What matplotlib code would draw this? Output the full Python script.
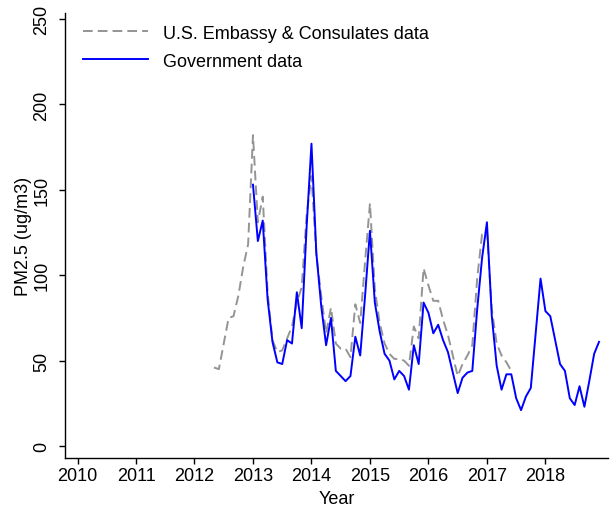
import numpy as np
import matplotlib
matplotlib.use("Agg")
import matplotlib.pyplot as plt

plt.rcParams['font.family'] = ['Liberation Sans', 'DejaVu Sans']

# Monthly PM2.5 means (ug/m3)
embassy_start = (2012, 5)
embassy_pm25 = [
    46, 45, 60, 75, 76, 88, 105, 118,                      # 2012 May-Dec
    182, 131, 146, 90, 62, 55, 56, 63, 70, 84, 93, 135,    # 2013
    158, 112, 88, 66, 81, 60, 57, 57, 52, 83, 72, 108,     # 2014
    142, 92, 72, 60, 54, 51, 51, 50, 47, 70, 63, 104,      # 2015
    94, 85, 85, 74, 65, 53, 41, 48, 53, 59, 98, 124,       # 2016
    126, 80, 60, 53, 49, 44,                               # 2017 Jan-Jun
]

government_start = (2013, 1)
government_pm25 = [
    153, 120, 132, 86, 61, 49, 48, 62, 60, 90, 69, 128,    # 2013
    177, 113, 82, 59, 75, 44, 41, 38, 41, 64, 53, 88,      # 2014
    126, 84, 67, 54, 50, 39, 44, 41, 33, 59, 48, 84,       # 2015
    78, 66, 71, 62, 55, 43, 31, 40, 43, 44, 80, 110,       # 2016
    131, 76, 47, 33, 42, 42, 28, 21, 29, 34, 66, 98,       # 2017
    79, 76, 62, 48, 44, 28, 24, 35, 23, 38, 54, 61,        # 2018
]

year_ticks = list(range(2010, 2019))
pm_ticks = [0, 50, 100, 150, 200, 250]


def month_axis(start, n):
    y0, m0 = start
    idx = np.arange(n)
    return y0 + (m0 - 1 + idx) / 12.0


x_emb = month_axis(embassy_start, len(embassy_pm25))
x_gov = month_axis(government_start, len(government_pm25))

fig = plt.figure(figsize=(6.1, 5.1), dpi=100)
ax = fig.add_axes([65 / 610, 51 / 510, 543 / 610, 445 / 510])

ax.plot(x_emb, embassy_pm25, color='#949494', lw=1.4,
        linestyle=(0, (5.0, 2.6)), label='U.S. Embassy & Consulates data')
ax.plot(x_gov, government_pm25, color='#0000ff', lw=1.4,
        label='Government data')

ax.set_xlim(2009.786, 2019.07)
ax.set_ylim(-7.0, 253.5)
ax.set_xticks(year_ticks)
ax.set_xticklabels([str(y) for y in year_ticks])
ax.set_yticks(pm_ticks)
ax.set_yticklabels([str(v) for v in pm_ticks], rotation=90, va='center')

for side in ('top', 'right'):
    ax.spines[side].set_visible(False)
for side in ('left', 'bottom'):
    ax.spines[side].set_linewidth(1.0)

ax.tick_params(axis='both', direction='out', length=4.5, width=1.0,
               labelsize=13, colors='black')
ax.tick_params(axis='x', pad=2)
ax.tick_params(axis='y', pad=6)

ax.set_xlabel('Year', fontsize=13, labelpad=4)
ax.set_ylabel('PM2.5 (ug/m3)', fontsize=13, labelpad=1)

leg = ax.legend(loc='upper left', bbox_to_anchor=(0.012, 1.0), frameon=False,
                fontsize=13, handlelength=3.6, handletextpad=0.8,
                labelspacing=0.6, borderaxespad=0.25)

fig.savefig('out.png', dpi=100)
